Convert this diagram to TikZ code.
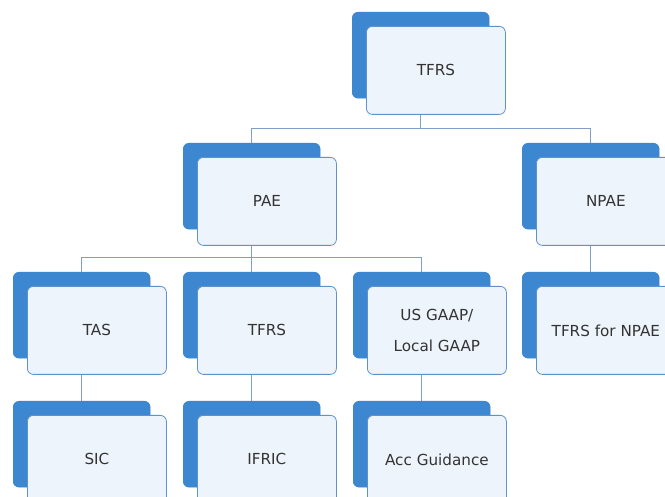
\documentclass[tikz,border=0pt]{standalone}
\usepackage{fontspec}
\setmainfont{DejaVu Sans}
\definecolor{backblue}{HTML}{3D87D1}
\definecolor{frontfill}{HTML}{EEF4FB}
\definecolor{frontline}{HTML}{5D92CF}
\definecolor{connline}{HTML}{7F9FC9}
\definecolor{txt}{HTML}{333333}
\begin{document}
\begin{tikzpicture}[x=1pt,y=-1pt,
  backbox/.style={anchor=north west, rectangle, rounded corners=6pt, fill=backblue,
    minimum width=137pt, minimum height=86pt, inner sep=0pt},
  frontbox/.style={anchor=north west, rectangle, rounded corners=6pt, fill=frontfill,
    draw=frontline, line width=0.8pt, minimum width=139pt, minimum height=88pt,
    inner sep=0pt, text=txt, align=center, font=\fontsize{15.2}{31}\selectfont},
  conn/.style={draw=connline, line width=1pt}]
\useasboundingbox (0,0) rectangle (665,497);
\clip (0,0) rectangle (665,497);
\fill[white] (0,0) rectangle (665,497);
% bus coordinates
\coordinate (bus1) at (0,129);
\coordinate (bus2) at (0,258);
% back boxes (positions)
\node[backbox] (tfrsB) at (352,12) {};
\node[backbox] (paeB) at (183,143) {};
\node[backbox] (npaeB) at (522,143) {};
\node[backbox] (tasB) at (13,272) {};
\node[backbox] (tfrs2B) at (183,272) {};
\node[backbox] (usB) at (353,272) {};
\node[backbox] (tfnB) at (522,272) {};
\node[backbox] (sicB) at (13,401) {};
\node[backbox] (ifricB) at (183,401) {};
\node[backbox] (accB) at (353,401) {};
% connectors
\draw[conn] (tfrsB.center) -- (tfrsB.center |- bus1);
\draw[conn] (paeB.center) -- (paeB.center |- bus1) -- (npaeB.center |- bus1) -- (npaeB.center);
\draw[conn] (paeB.center) -- (paeB.center |- bus2);
\draw[conn] (tasB.center) -- (tasB.center |- bus2) -- (usB.center |- bus2) -- (usB.center);
\draw[conn] (tfrs2B.center |- bus2) -- (tfrs2B.center);
\draw[conn] (npaeB.center) -- (tfnB.center);
\draw[conn] (tasB.center) -- (sicB.center);
\draw[conn] (tfrs2B.center) -- (ifricB.center);
\draw[conn] (usB.center) -- (accB.center);
% redraw back boxes over connectors
\foreach \b in {tfrsB,paeB,npaeB,tasB,tfrs2B,usB,tfnB,sicB,ifricB,accB}{
  \fill[backblue, rounded corners=6pt] (\b.north west) rectangle (\b.south east);
}
% front boxes
\node[frontbox] (tfrs) at (366,26) {TFRS};
\node[frontbox] (pae) at (197,157) {PAE};
\node[frontbox] (npae) at (536,157) {NPAE};
\node[frontbox] (tas) at (27,286) {TAS};
\node[frontbox] (tfrs2) at (197,286) {TFRS};
\node[frontbox] (us) at (367,286) {US GAAP/\\Local GAAP};
\node[frontbox] (tfn) at (536,286) {TFRS for NPAE};
\node[frontbox] (sic) at (27,415) {SIC};
\node[frontbox] (ifric) at (197,415) {IFRIC};
\node[frontbox] (acc) at (367,415) {Acc Guidance};
\end{tikzpicture}
\end{document}
